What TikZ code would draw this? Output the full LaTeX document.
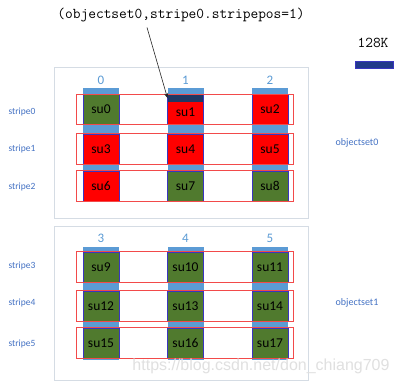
\documentclass[tikz,border=0pt]{standalone}
\usepackage{fontspec}
\setmainfont{Carlito}
\usetikzlibrary{arrows.meta}
\definecolor{sugreen}{HTML}{507A2E}
\definecolor{sured}{HTML}{FF0000}
\definecolor{colblue}{HTML}{5B9BD5}
\definecolor{navy}{HTML}{203864}
\definecolor{legnavy}{HTML}{22398A}
\definecolor{suedge}{HTML}{3A35C0}
\definecolor{rowred}{HTML}{F24A4A}
\definecolor{lblblue}{HTML}{4472C4}
\definecolor{framegray}{HTML}{D5DCE4}
\tikzset{
  subox/.style={draw=suedge, line width=0.8pt, minimum width=36pt, minimum height=30pt,
    inner sep=0pt, text=black, font=\fontsize{13.5}{14}\selectfont},
  gsu/.style={subox, fill=sugreen},
  rsu/.style={subox, fill=sured},
  colbar/.style={fill=colblue},
  rowrect/.style={draw=rowred, line width=0.9pt},
  setframe/.style={draw=framegray, line width=1pt},
  colnum/.style={text=colblue, font=\fontsize{13}{14}\selectfont},
  stripelbl/.style={text=lblblue, font=\fontsize{9.5}{10}\selectfont},
  setlbl/.style={text=lblblue, font=\fontsize{10}{11}\selectfont},
  monotxt/.style={text=black, font=\ttfamily\fontsize{15}{16}\selectfont},
}
\begin{document}
\begin{tikzpicture}[x=1pt,y=-1pt]
\useasboundingbox (0,0) rectangle (399,387);
\fill[white] (0,0) rectangle (399,387);
% frames
\draw[setframe] (54,68) rectangle (308,219);
\draw[setframe] (54,227) rectangle (308,380);
% column bars
\foreach \cx in {101,185.5,270}{
  \fill[colblue] (\cx-18,88) rectangle (\cx+18,202);
  \fill[colblue] (\cx-18,247) rectangle (\cx+18,360);
}
% column numbers
\node[colnum] (n0) at (101,80) {0};
\node[colnum] (n1) at (185.5,80) {1};
\node[colnum] (n2) at (270,80) {2};
\node[colnum] (n3) at (101,238) {3};
\node[colnum] (n4) at (185.5,238) {4};
\node[colnum] (n5) at (270,238) {5};
% objectset0
\node[gsu] (su0) at (101,109.5) {su0};
\node[rsu] (su1) at (185.5,109.5) {};
\fill[navy] (su1.north west) rectangle ([yshift=-8pt]su1.north east);
\node[subox] (su1b) at (185.5,109.5) {};
\node[text=black, font=\fontsize{13.5}{14}\selectfont] (su1t) at (185.5,112) {su1};
\node[rsu] (su2) at (270,109.5) {su2};
\node[rsu] (su3) at (101,149) {su3};
\node[rsu] (su4) at (185.5,149) {su4};
\node[rsu] (su5) at (270,149) {su5};
\node[rsu] (su6) at (101,186) {su6};
\node[gsu] (su7) at (185.5,186) {su7};
\node[gsu] (su8) at (270,186) {su8};
% objectset1
\node[gsu] (su9) at (101,267) {su9};
\node[gsu] (su10) at (185.5,267) {su10};
\node[gsu] (su11) at (270,267) {su11};
\node[gsu] (su12) at (101,306) {su12};
\node[gsu] (su13) at (185.5,306) {su13};
\node[gsu] (su14) at (270,306) {su14};
\node[gsu] (su15) at (101,343) {su15};
\node[gsu] (su16) at (185.5,343) {su16};
\node[gsu] (su17) at (270,343) {su17};
% stripe rectangles
\foreach \a/\b in {su0/su2,su3/su5,su6/su8,su9/su11,su12/su14,su15/su17}{
  \draw[rowrect] ([xshift=-6pt]\a.north west) rectangle ([xshift=5pt]\b.south east);
}
% stripe labels
\node[stripelbl] (s0) at (22,112) {stripe0};
\node[stripelbl] (s1) at (22,149) {stripe1};
\node[stripelbl] (s2) at (22,187) {stripe2};
\node[stripelbl] (s3) at (22,266) {stripe3};
\node[stripelbl] (s4) at (22,303) {stripe4};
\node[stripelbl] (s5) at (22,344) {stripe5};
% set labels
\node[setlbl] (os0) at (357,143) {objectset0};
\node[setlbl] (os1) at (357,303) {objectset1};
% legend
\node[monotxt] (k128) at (373,43) {128K};
\filldraw[fill=legnavy, draw=suedge, line width=0.6pt] (355,61) rectangle (393,68);
% annotation
\node[monotxt] (annot) at (181,15) {(objectset0,stripe0.stripepos=1)};
\draw[-{Stealth[length=5pt,width=4pt]}, line width=0.6pt, black!85] ([xshift=-34pt,yshift=-2pt]annot.south) -- ([xshift=-18pt,yshift=-4pt]su1.north);
% watermark
\node[text=black!12, font=\fontsize{16}{17}\selectfont, inner sep=0] (wm) at (261,366) {\fontspec{Liberation Sans}https://blog.csdn.net/don\_chiang709};
\end{tikzpicture}
\end{document}
